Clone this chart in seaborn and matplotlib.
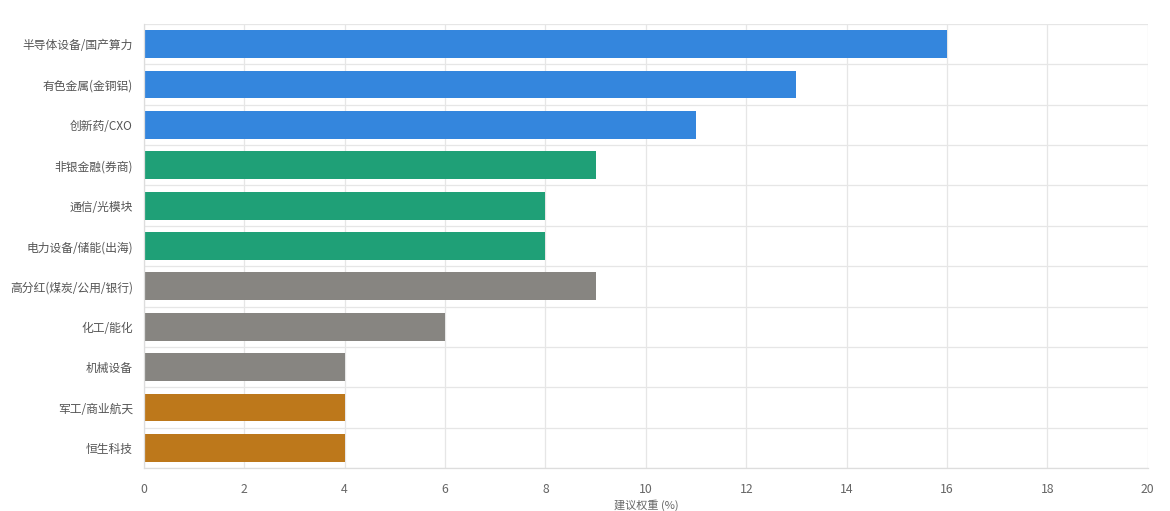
import numpy as np
import pandas as pd
import matplotlib
matplotlib.use('Agg')
import matplotlib.pyplot as plt
import seaborn as sns

# data
sectors = ['半导体设备/国产算力', '有色金属(金铜铝)', '创新药/CXO', '非银金融(券商)',
           '通信/光模块', '电力设备/储能(出海)', '高分红(煤炭/公用/银行)', '化工/能化',
           '机械设备', '军工/商业航天', '恒生科技']
weights = [16, 13, 11, 9, 8, 8, 9, 6, 4, 4, 4]
groups = ['成长', '成长', '成长', '弹性', '弹性', '弹性', '稳健', '稳健', '稳健', '港股军工', '港股军工']
group_colors = {'成长': '#3486dd', '弹性': '#1fa077', '稳健': '#878581', '港股军工': '#bd781b'}

df = pd.DataFrame({'sector': sectors, 'weight': weights, 'group': groups})

sns.set_theme(style='white')
plt.rcParams['font.family'] = ['Noto Sans CJK SC', 'DejaVu Sans']

fig = plt.figure(figsize=(11.7, 5.11), dpi=100)
ax = fig.add_axes([0.123, 0.084, 0.858, 0.869])

bar_colors = [group_colors[g] for g in groups]
sns.barplot(data=df, x='weight', y='sector', hue='sector', palette=bar_colors,
            legend=False, width=0.69, ax=ax, saturation=1, linewidth=0)

ax.set_xlim(0, 20)
ax.set_xticks(np.arange(0, 21, 2))
ax.set_ylim(len(sectors) - 0.5, -0.5)
ax.set_yticks(np.arange(-0.5, len(sectors), 1), minor=True)
ax.grid(True, axis='x', color='#e6e6e6', linewidth=0.9)
ax.grid(True, axis='y', which='minor', color='#e6e6e6', linewidth=0.9)
ax.set_axisbelow(True)

ax.tick_params(axis='y', which='major', length=0, labelsize=8.5, labelcolor='#555555', pad=8)
ax.tick_params(axis='y', which='minor', length=7, color='#e6e6e6', width=0.9)
ax.tick_params(axis='x', length=7, color='#e6e6e6', width=0.9, labelsize=8.8,
               labelcolor='#666666', pad=4)

for s in ['top', 'right']:
    ax.spines[s].set_visible(False)
for s in ['left', 'bottom']:
    ax.spines[s].set_color('#dddddd')
    ax.spines[s].set_linewidth(0.9)

ax.set_ylabel('')
ax.set_xlabel('建议权重 (%)', fontsize=8, color='#666666', labelpad=2)

fig.savefig('out.png', dpi=100, facecolor='white')
